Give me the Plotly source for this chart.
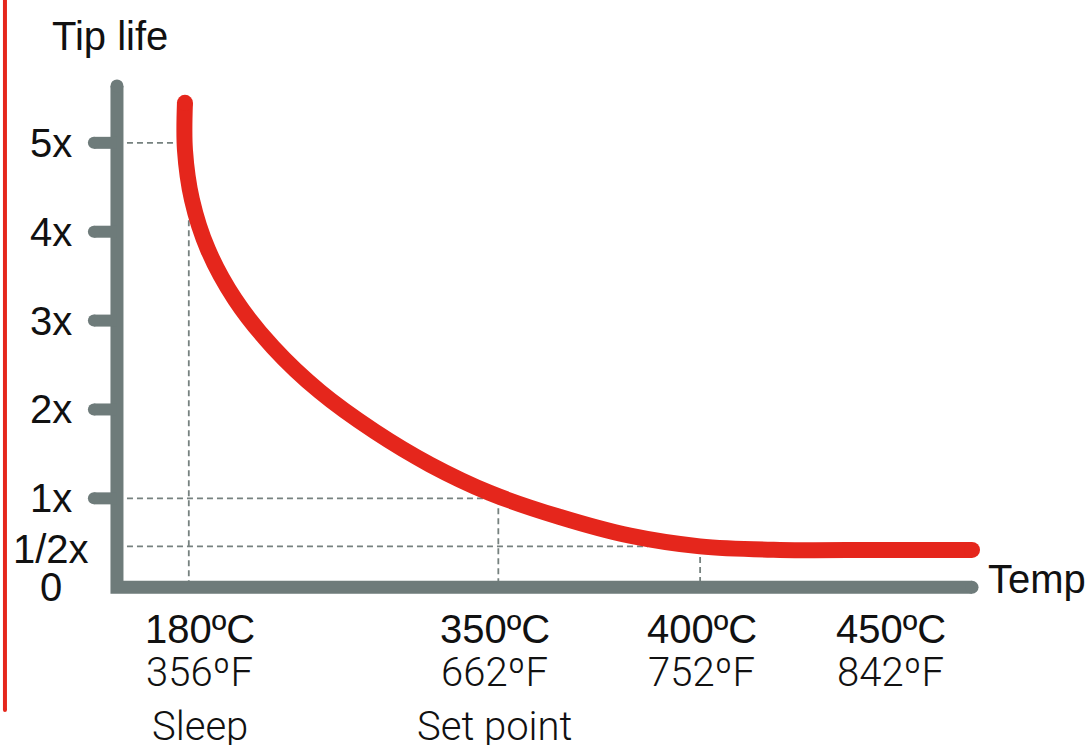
import plotly.graph_objects as go

# ---- data ----
# x is a schematic "position along the temperature axis" (0 = y axis, 100 = axis end)
curve_x = [7.95, 7.95, 8.77, 10.64, 13.80, 18.25, 23.74, 30.18, 36.61, 43.63,
           51.81, 60.00, 68.19, 77.54, 89.24, 100.0]
curve_y = [5.45, 4.92, 4.36, 3.80, 3.24, 2.70, 2.20, 1.75, 1.38, 1.06,
           0.79, 0.58, 0.46, 0.42, 0.42, 0.42]

life_ticks = [1, 2, 3, 4, 5]
life_labels = ["1x", "2x", "3x", "4x", "5x"]
half_value = 0.46
half_label = "1/2x"
zero_label = "0"

temp_celsius = ["180ºC", "350ºC", "400ºC", "450ºC"]
temp_fahrenheit = ["356ºF", "662ºF", "752ºF", "842ºF"]
temp_notes = ["Sleep", "Set point", "", ""]
temp_label_pos = [9.7, 44.2, 68.4, 90.5]

guide_sleep_x = 8.4
guide_sleep_top = 4.13
guide_set_x = 44.6
guide_400_x = 68.2
guide_400_top = 0.34
guide_half_end = 62.1
guide_five_end = 7.1

y_title = "Tip life"
x_title = "Temp"

# ---- styles ----
RED = "#e5261c"
GRAY = "#6e7b7a"
DASH_GRAY = "#76817f"
TXT = "#111111"
FONT = "Liberation Sans, Arial, sans-serif"
LIGHT_FONT = "Roboto, Liberation Sans, Arial, sans-serif"
FS = 40
AXW = 13

fig = go.Figure()

# dashed guide lines
guides = [
    (0, 5, guide_five_end, 5),
    (guide_sleep_x, guide_sleep_top, guide_sleep_x, 0),
    (0, 1, guide_set_x, 1),
    (guide_set_x, 1, guide_set_x, 0),
    (0, half_value, guide_half_end, half_value),
    (guide_400_x, guide_400_top, guide_400_x, 0),
]
for x0, y0, x1, y1 in guides:
    fig.add_shape(type="line", x0=x0, y0=y0, x1=x1, y1=y1, xref="x", yref="y",
                  line=dict(color=DASH_GRAY, width=1.8, dash="6px,4px"), layer="below")

# axes (L shape)
y_top = 5.64
fig.add_trace(go.Scatter(x=[0, 0, 100], y=[y_top, 0, 0], mode="lines",
                         line=dict(color=GRAY, width=AXW), hoverinfo="skip", showlegend=False))
fig.add_trace(go.Scatter(x=[0, 100], y=[y_top, 0], mode="markers",
                         marker=dict(color=GRAY, size=AXW, line=dict(width=0)),
                         hoverinfo="skip", showlegend=False))

# ticks
tick_len = 2.7
tx, ty = [], []
for t in life_ticks:
    tx += [-tick_len, 0, None]
    ty += [t, t, None]
fig.add_trace(go.Scatter(x=tx, y=ty, mode="lines", line=dict(color=GRAY, width=12),
                         hoverinfo="skip", showlegend=False))
fig.add_trace(go.Scatter(x=[-tick_len] * len(life_ticks), y=life_ticks, mode="markers",
                         marker=dict(color=GRAY, size=12, line=dict(width=0)),
                         hoverinfo="skip", showlegend=False))

# red curve
fig.add_trace(go.Scatter(x=curve_x, y=curve_y, mode="lines",
                         line=dict(color=RED, width=16, shape="spline", smoothing=1.0),
                         hoverinfo="skip", showlegend=False))
fig.add_trace(go.Scatter(x=[curve_x[0], curve_x[-1]], y=[curve_y[0], curve_y[-1]], mode="markers",
                         marker=dict(color=RED, size=16, line=dict(width=0)),
                         hoverinfo="skip", showlegend=False))

# red left border line
fig.add_trace(go.Scatter(x=[-13.1, -13.1], y=[6.8, -1.38], mode="lines",
                         line=dict(color=RED, width=4), hoverinfo="skip", showlegend=False))
fig.add_trace(go.Scatter(x=[-13.1], y=[-1.38], mode="markers",
                         marker=dict(color=RED, size=4, line=dict(width=0)),
                         hoverinfo="skip", showlegend=False))

# y labels
lab_x = -7.72
for t, lab in zip(life_ticks, life_labels):
    fig.add_annotation(x=lab_x, y=t, text=lab, showarrow=False, xanchor="center", yanchor="middle",
                       font=dict(family=FONT, size=FS, color=TXT))
fig.add_annotation(x=lab_x, y=half_value - 0.03, text=half_label, showarrow=False, xanchor="center",
                   yanchor="middle", font=dict(family=FONT, size=FS, color=TXT))
fig.add_annotation(x=lab_x, y=0, text=zero_label, showarrow=False, xanchor="center",
                   yanchor="middle", font=dict(family=FONT, size=FS, color=TXT))

# axis titles
fig.add_annotation(x=-7.84, y=6.2, text=y_title, showarrow=False, xanchor="left", yanchor="middle",
                   font=dict(family=FONT, size=FS, color=TXT))
fig.add_annotation(x=101.6, y=0.09, text=x_title, showarrow=False, xanchor="left", yanchor="middle",
                   font=dict(family=FONT, size=FS, color=TXT))

# x labels
for xp, c, f, n in zip(temp_label_pos, temp_celsius, temp_fahrenheit, temp_notes):
    fig.add_annotation(x=xp, y=-0.47, text=c, showarrow=False, xanchor="center", yanchor="middle",
                       font=dict(family=FONT, size=FS, color=TXT))
    fig.add_annotation(x=xp, y=-0.955, text=f, showarrow=False, xanchor="center", yanchor="middle",
                       font=dict(family=LIGHT_FONT, size=FS, color=TXT, weight=300))
    if n:
        fig.add_annotation(x=xp, y=-1.57, text=n, showarrow=False, xanchor="center", yanchor="middle",
                           font=dict(family=LIGHT_FONT, size=FS, color=TXT, weight=300))

fig.update_layout(
    width=1089, height=745, autosize=False,
    margin=dict(l=0, r=0, t=0, b=0),
    paper_bgcolor="white", plot_bgcolor="white",
    xaxis=dict(visible=False, range=[-13.68, 113.68], fixedrange=True),
    yaxis=dict(visible=False, range=[-1.775, 6.607], fixedrange=True),
    showlegend=False,
)

fig.write_html("out.html", config={"displayModeBar": False},
               post_script="document.body.style.margin='0';document.body.style.overflow='hidden';")
